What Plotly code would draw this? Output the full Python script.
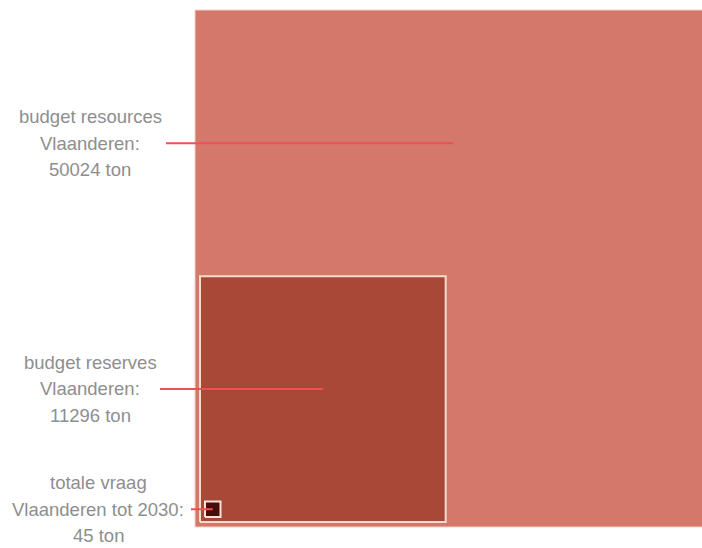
import math
import plotly.graph_objects as go

# ---- data ----
names = ["budget resources Vlaanderen", "budget reserves Vlaanderen", "totale vraag Vlaanderen tot 2030"]
values = [50024, 11296, 45]  # ton
label_lines = [
    ["budget resources", "Vlaanderen:", "50024 ton"],
    ["budget reserves", "Vlaanderen:", "11296 ton"],
    ["totale vraag", "Vlaanderen tot 2030:", "45 ton"],
]

# ---- styling ----
fills = ["#d4786a", "#a84836", "#4a0c08"]
borders = ["#f3cfc4", "#f6dccf", "#f7e4da"]
border_w = [1, 2, 2]
line_color = "#ef4f57"
text_color = "#8e8e8e"

W, H = 702, 548
sides = [math.sqrt(v) for v in values]
k = 517.0 / sides[0]          # pixels per unit
ox_px, oy_px = 195.0, 527.0   # pixel position of big square's bottom-left
offsets = [0.0, 5.0 / k, 10.0 / k]

fig = go.Figure()
for i, s in enumerate(sides):
    o = offsets[i]
    fig.add_trace(go.Scatter(
        x=[o, o + s, o + s, o, o], y=[o, o, o + s, o + s, o],
        mode="lines", fill="toself", fillcolor=fills[i],
        line=dict(color=borders[i], width=border_w[i]),
        hoverinfo="text", text=f"{names[i]}: {values[i]} ton", showlegend=False))

# leader line y positions: midway between top of this square and next one
tops = [offsets[i] + sides[i] for i in range(3)]
lead_y = [(tops[0] + tops[1]) / 2, (tops[1] + tops[2]) / 2, offsets[2] + sides[2] / 2]
lead_x0_px = [166, 160, 191]
text_cx_px = [90, 90, 98]

for i in range(3):
    cx = offsets[i] + sides[i] / 2
    x0 = (lead_x0_px[i] - ox_px) / k
    fig.add_trace(go.Scatter(x=[x0, cx], y=[lead_y[i], lead_y[i]], mode="lines",
                             line=dict(color=line_color, width=2), hoverinfo="skip", showlegend=False))
    tx = (text_cx_px[i] - ox_px) / k
    for j, t in enumerate(label_lines[i]):
        fig.add_annotation(x=tx, y=lead_y[i], xref="x", yref="y", text=t, showarrow=False,
                           xanchor="center", yanchor="middle", yshift=(1 - j) * 26.5,
                           font=dict(family="Liberation Sans, Arial, sans-serif", size=18.5, color=text_color))

fig.update_xaxes(range=[-ox_px / k, (W - ox_px) / k], visible=False, fixedrange=True)
fig.update_yaxes(range=[-(H - oy_px) / k, oy_px / k], visible=False, fixedrange=True)
fig.update_layout(width=W, height=H, margin=dict(l=0, r=0, t=0, b=0),
                  paper_bgcolor="white", plot_bgcolor="white")
fig.write_html("out.html", config={"displayModeBar": False},
               post_script="document.body.style.margin='0';document.body.style.overflow='hidden';")
